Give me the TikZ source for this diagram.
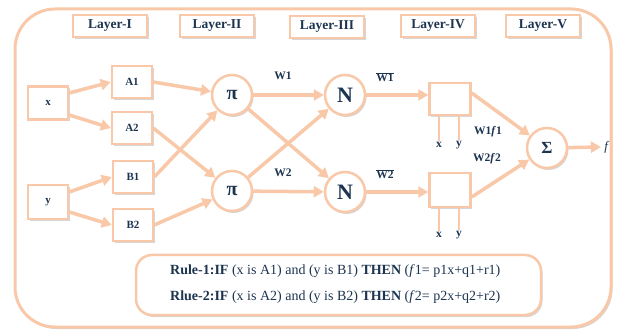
\documentclass[tikz,border=0pt]{standalone}
\usepackage{fontspec}
\setmainfont{Liberation Serif}
\usetikzlibrary{arrows.meta,shadows,calc}
\definecolor{peach}{RGB}{248,200,168}
\definecolor{ink}{RGB}{28,52,80}
\tikzset{
  shad/.style={drop shadow={opacity=0.35,shadow xshift=1.5pt,shadow yshift=-2pt,fill=black!45}},
  layerbox/.style={draw=peach, line width=2.5pt, fill=white, minimum width=74pt, minimum height=22pt,
    font=\bfseries\fontsize{13.5}{14}\selectfont, text=ink, shad},
  mfbox/.style={draw=peach, line width=2.5pt, fill=white, minimum width=40pt, minimum height=32pt,
    font=\bfseries\fontsize{11}{12}\selectfont, text=ink, shad},
  opcirc/.style={circle, draw=peach, line width=2.5pt, fill=white, minimum size=40pt, inner sep=0pt,
    text=ink, shad},
  conn/.style={draw=peach, line width=3.5pt, -{Triangle[length=10pt,width=11pt]}},
  plainconn/.style={draw=peach, line width=2pt},
  lbl/.style={font=\bfseries\fontsize{11.5}{12}\selectfont, text=ink, inner sep=1pt},
}
\begin{document}
\begin{tikzpicture}[x=1pt,y=-1pt]
\useasboundingbox (0,0) rectangle (620,336);
\fill[white] (0,0) rectangle (620,336);
% outer frame
\draw[draw=peach, line width=3pt, rounded corners=40pt, fill=white, shad] (15,9) rectangle (611,327);

% layer headers
\node[layerbox] (L1) at (110,26) {Layer-I};
\node[layerbox] (L2) at (217,26) {Layer-II};
\node[layerbox] (L3) at (327,27) {Layer-III};
\node[layerbox] (L4) at (438,26) {Layer-IV};
\node[layerbox] (L5) at (543,26) {Layer-V};

% inputs
\node[mfbox, minimum height=33pt] (x) at (48,103) {x};
\node[mfbox, minimum height=34pt] (y) at (48,202) {y};
\node[mfbox] (A1) at (132,82) {A1};
\node[mfbox] (A2) at (132,128) {A2};
\node[mfbox] (B1) at (133,177) {B1};
\node[mfbox] (B2) at (133,225) {B2};

% layer II / III
\node[opcirc, font=\bfseries\fontsize{20}{21}\selectfont] (P1) at (232,95) {π};
\node[opcirc, font=\bfseries\fontsize{20}{21}\selectfont] (P2) at (232,191) {π};
\node[opcirc, font=\bfseries\fontsize{22}{23}\selectfont] (N1) at (345,95) {N};
\node[opcirc, font=\bfseries\fontsize{22}{23}\selectfont] (N2) at (345,192) {N};

% layer IV boxes
\node[mfbox, minimum width=41pt, minimum height=32pt] (R1) at (450,99) {};
\node[mfbox, minimum width=41pt, minimum height=34pt] (R2) at (450,190) {};

% layer V
\node[opcirc, minimum size=40pt, font=\bfseries\fontsize{17}{18}\selectfont] (S) at (547,148) {Σ};
\node[font=\fontsize{13}{14}\selectfont, text=ink] (f) at (607,147) {\textit{f}};

% connectors
\draw[conn] ($(x.east)+(0,-10)$) -- (A1.west);
\draw[conn] ($(x.east)+(0,12)$) -- (A2.west);
\draw[conn] ($(y.east)+(0,-10)$) -- (B1.west);
\draw[conn] ($(y.east)+(0,10)$) -- (B2.west);
\draw[conn] (A1.east) -- (P1);
\draw[conn] (B1.east) -- (P1);
\draw[conn] (A2.east) -- (P2);
\draw[conn] (B2.east) -- (P2);
\draw[conn] (P1) -- (N1);
\draw[conn] (P1) -- (N2);
\draw[conn] (P2) -- (N1);
\draw[conn] (P2) -- (N2);
\draw[conn] (N1) -- (N1 -| R1.west);
\draw[conn] (N2) -- (N2 -| R2.west);
\draw[conn] ($(R1.east)+(0,-6)$) -- (S);
\draw[conn] ($(R2.east)+(0,7)$) -- (S);
\draw[conn] (S) -- (f.west);

% edge labels
\node[lbl] (w1) at (283,76) {W1};
\node[lbl] (w2) at (283,173) {W2};
\node[lbl] (w1b) at (385,77) {$\overline{\mbox{\bfseries W1}}$};
\node[lbl] (w2b) at (385,174) {$\overline{\mbox{\bfseries W2}}$};
\node[lbl] (w1f1) at (488,132) {W1\textit{f}1};
\node[lbl] (w2f2) at (487,159) {W2\textit{f}2};

% x,y inputs to layer IV
\node[lbl] (x1) at (439,145) {x};
\node[lbl] (y1) at (459,145) {y};
\node[lbl] (x2) at (439,235) {x};
\node[lbl] (y2) at (459,235) {y};
\draw[plainconn] (x1.north) -- (x1.north |- R1.south);
\draw[plainconn] (y1.north) -- (y1.north |- R1.south);
\draw[plainconn] (x2.north) -- (x2.north |- R2.south);
\draw[plainconn] (y2.north) -- (y2.north |- R2.south);

% rules
\draw[draw=peach, line width=2.5pt, rounded corners=16pt, fill=white, shad] (136,255) rectangle (541,315);
\node[anchor=west, text=ink, font=\fontsize{14}{15}\selectfont, inner sep=0pt] (r1) at (170,271)
  {\textbf{Rule-1:IF} (x is A1) and (y is B1) \textbf{THEN} (\textit{f}1= p1x+q1+r1)};
\node[anchor=west, text=ink, font=\fontsize{14}{15}\selectfont, inner sep=0pt] (r2) at (170,297)
  {\textbf{Rlue-2:IF} (x is A2) and (y is B2) \textbf{THEN} (\textit{f}2= p2x+q2+r2)};
\end{tikzpicture}
\end{document}
